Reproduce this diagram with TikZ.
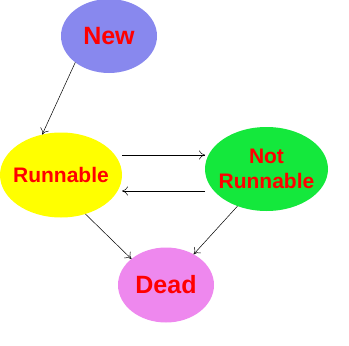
\documentclass[tikz,border=0pt]{standalone}
\usepackage{fontspec}
\setmainfont{Liberation Sans}
\usetikzlibrary{shapes.geometric,arrows.meta}
\definecolor{newc}{RGB}{136,136,238}
\definecolor{runc}{RGB}{255,255,0}
\definecolor{notc}{RGB}{20,232,60}
\definecolor{deadc}{RGB}{238,136,238}
\definecolor{txt}{RGB}{255,0,0}
\begin{document}
\begin{tikzpicture}[x=1pt,y=-1pt,
  state/.style={ellipse,inner sep=0pt,outer sep=0pt},
  lbl/.style={text=txt,font=\bfseries\fontsize{#1}{25}\selectfont,align=center,inner sep=0pt},
  conn/.style={->,>={To[length=6pt,width=9pt,open]},line width=0.5pt,black},
  ]
\useasboundingbox (0,0) rectangle (349,346);
\node[state,fill=newc,minimum width=96pt,minimum height=74pt,
  label={[lbl=25]center:New}] (new) at (109,36) {};
\node[state,fill=runc,minimum width=122pt,minimum height=85pt,
  label={[lbl=21]center:Runnable}] (run) at (61,175) {};
\node[state,fill=notc,minimum width=123pt,minimum height=84pt,
  label={[lbl=21]center:Not\\Runnable}] (not) at (266.5,169) {};
\node[state,fill=deadc,minimum width=96pt,minimum height=75pt,
  label={[lbl=25]center:Dead}] (dead) at (166,285) {};
\draw[conn] (new.-142) -- (run.115);
\draw[conn] (run.east |- 0,155) -- (not.west |- 0,155);
\draw[conn] (not.west |- 0,191) -- (run.east |- 0,191);
\draw[conn] (run.-58) -- (dead.143);
\draw[conn] (not.-128) -- (dead.48);
\end{tikzpicture}
\end{document}
